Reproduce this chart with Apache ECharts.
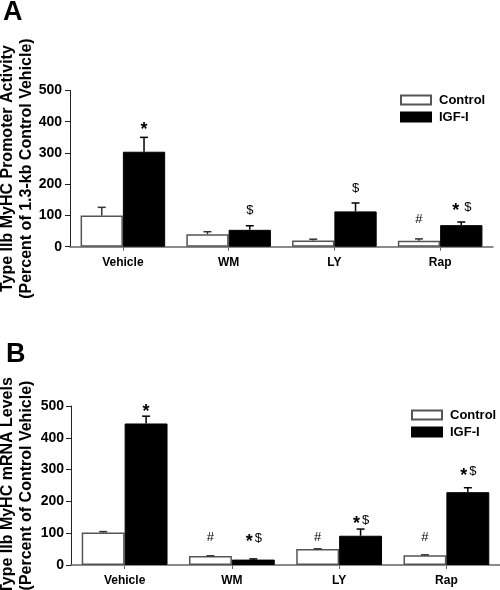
<!DOCTYPE html>
<html>
<head>
<meta charset="utf-8">
<script src="https://cdn.jsdelivr.net/npm/echarts@6/dist/echarts.min.js"></script>
<style>
html,body{margin:0;padding:0;background:#fff;}
#chart{width:500px;height:590px;}
</style>
</head>
<body>
<div id="chart"></div>
<script>
// ---- data ----
const categories = ['Vehicle', 'WM', 'LY', 'Rap'];
const seriesNames = ['Control', 'IGF-I'];

// Panel A: promoter activity
const ctrlA = [100, 40, 20, 19];
const ctrlErrA = [26, 8, 4, 6];
const igfA = [304, 54, 113, 69];
const igfErrA = [46, 13, 27, 10];
const ctrlMarksA = ['', '', '', '#'];
const ctrlMarkLevelA = [null, null, null, 88];
const igfMarksA = ['*', '$', '$', '* $'];
const igfMarkLevelA = [387, 115, 187, 127];

// Panel B: mRNA levels
const ctrlB = [102, 28, 50, 31];
const ctrlErrB = [3, 1, 1, 1];
const igfB = [445, 17, 92, 229];
const igfErrB = [23, 2, 21, 14];
const ctrlMarksB = ['', '#', '#', '#'];
const ctrlMarkLevelB = [null, 88, 88, 88];
const igfMarksB = ['*', '*$', '*$', '*$'];
const igfMarkLevelB = [493, 85, 141, 293];

const yTicks = [0, 100, 200, 300, 400, 500];

// ---- build ----
const FONT = "'Liberation Sans', Arial, Helvetica, sans-serif";
const chart = echarts.init(document.getElementById('chart'), null, {renderer: 'canvas'});

function xAxisCfg(gi) {
  return {
    type: 'category', gridIndex: gi, data: categories,
    axisLine: {show: true, lineStyle: {color: '#666', width: 1.5}},
    axisTick: {show: true, alignWithLabel: true, length: 4, lineStyle: {color: '#666', width: 1}},
    axisLabel: {fontFamily: FONT, fontWeight: 'bold', fontSize: 12, color: '#000', margin: 10, interval: 0},
    splitLine: {show: false}
  };
}
function yAxisCfg(gi, name, margin, gap) {
  return {
    type: 'value', gridIndex: gi,
    min: yTicks[0], max: yTicks[yTicks.length - 1], interval: yTicks[1] - yTicks[0],
    axisLine: {show: true, lineStyle: {color: '#222', width: 1}},
    axisTick: {show: true, length: 5, inside: false, lineStyle: {color: '#222', width: 1}},
    axisLabel: {fontFamily: FONT, fontWeight: 'bold', fontSize: 14, color: '#000', margin: margin},
    splitLine: {show: false},
    name: name, nameLocation: 'middle', nameRotate: 90, nameGap: gap, nameMoveOverlap: false,
    nameTextStyle: {fontFamily: FONT, fontWeight: 'bold', fontSize: 16, lineHeight: 19, color: '#000', align: 'center'}
  };
}
function barSeries(gi, name, data) {
  const isCtrl = name === seriesNames[0];
  return {
    name: name, type: 'bar', xAxisIndex: gi, yAxisIndex: gi, data: data,
    barGap: '0%', barCategoryGap: '20%',
    itemStyle: isCtrl ? {color: '#fff', borderColor: '#555', borderWidth: 1.5}
                      : {color: '#000', borderColor: '#000', borderWidth: 1},
    emphasis: {disabled: true}, z: 2
  };
}
function errSeries(gi, vals, errs, sign, color) {
  return {
    type: 'custom', xAxisIndex: gi, yAxisIndex: gi, silent: true, z: 3,
    data: vals.map((v, i) => [i, v, errs[i]]),
    encode: {x: 0, y: 1},
    renderItem: function (params, api) {
      const i = api.value(0), v = api.value(1), e = api.value(2);
      const base = api.coord([i, v]);
      const top = api.coord([i, v + e]);
      const bw = api.size([1, 0])[0];
      const x = base[0] + sign * bw * 0.2;
      return {type: 'group', children: [
        {type: 'line', shape: {x1: x, y1: base[1], x2: x, y2: top[1]}, style: {stroke: color, lineWidth: 1.5}},
        {type: 'line', shape: {x1: x - 4, y1: top[1], x2: x + 4, y2: top[1]}, style: {stroke: color, lineWidth: 1.5}}
      ]};
    }
  };
}
const ADV = {'*': 10, '$': 8, '#': 8, ' ': 3};
function markSeries(gi, marks, levels, sign) {
  const data = [];
  levels.forEach((l, i) => { if (l != null && marks[i]) data.push([i, l]); });
  return {
    type: 'custom', xAxisIndex: gi, yAxisIndex: gi, silent: true, z: 4,
    data: data, encode: {x: 0, y: 1},
    renderItem: function (params, api) {
      const i = api.value(0), l = api.value(1);
      const p = api.coord([i, l]);
      const bw = api.size([1, 0])[0];
      const cx = p[0] + sign * bw * 0.2;
      const str = marks[i];
      let total = 0;
      for (const ch of str) total += ADV[ch] || 8;
      let x = cx - total / 2;
      const children = [];
      for (const ch of str) {
        const a = ADV[ch] || 8;
        if (ch !== ' ') {
          const star = ch === '*';
          children.push({
            type: 'text', x: x + a / 2, y: p[1] + (star ? 4 : 0),
            style: {text: ch, fill: '#000', align: 'center', verticalAlign: 'middle',
                    font: star ? ('bold 18px ' + FONT) : ('13px ' + FONT)}
          });
        }
        x += a;
      }
      return {type: 'group', children: children};
    }
  };
}
function legendCfg(left, top) {
  return {
    data: seriesNames, left: left, top: top, orient: 'vertical', padding: 0,
    itemWidth: 30, itemHeight: 9, itemGap: 1, icon: 'rect', selectedMode: false,
    textStyle: {fontFamily: FONT, fontWeight: 'bold', fontSize: 13, color: '#000', lineHeight: 16, padding: [0, 0, 0, 3]}
  };
}

const option = {
  animation: false,
  backgroundColor: '#fff',
  grid: [
    {left: 70, right: 7, top: 90.5, height: 156.2, containLabel: false, outerBoundsMode: 'none'},
    {left: 71, right: 0, top: 406, height: 159, containLabel: false, outerBoundsMode: 'none'}
  ],
  xAxis: [xAxisCfg(0), xAxisCfg(1)],
  yAxis: [
    yAxisCfg(0, 'Type IIb MyHC Promoter Activity\n(Percent of 1.3-kb Control Vehicle)', 8, 34),
    yAxisCfg(1, 'Type IIb MyHC mRNA Levels\n(Percent of Control Vehicle)', 7, 35)
  ],
  legend: [legendCfg(400, 92), legendCfg(411, 407)],
  series: [
    barSeries(0, seriesNames[0], ctrlA),
    barSeries(0, seriesNames[1], igfA),
    barSeries(1, seriesNames[0], ctrlB),
    barSeries(1, seriesNames[1], igfB),
    errSeries(0, ctrlA, ctrlErrA, -1, '#333'),
    errSeries(0, igfA, igfErrA, 1, '#000'),
    errSeries(1, ctrlB, ctrlErrB, -1, '#333'),
    errSeries(1, igfB, igfErrB, 1, '#000'),
    markSeries(0, ctrlMarksA, ctrlMarkLevelA, -1),
    markSeries(0, igfMarksA, igfMarkLevelA, 1),
    markSeries(1, ctrlMarksB, ctrlMarkLevelB, -1),
    markSeries(1, igfMarksB, igfMarkLevelB, 1)
  ],
  graphic: [
    {type: 'text', left: 3, top: -1, style: {text: 'A', font: 'bold 27px ' + FONT, fill: '#000'}},
    {type: 'text', left: 6, top: 341, style: {text: 'B', font: 'bold 27px ' + FONT, fill: '#000'}}
  ]
};
chart.setOption(option);
</script>
</body>
</html>
